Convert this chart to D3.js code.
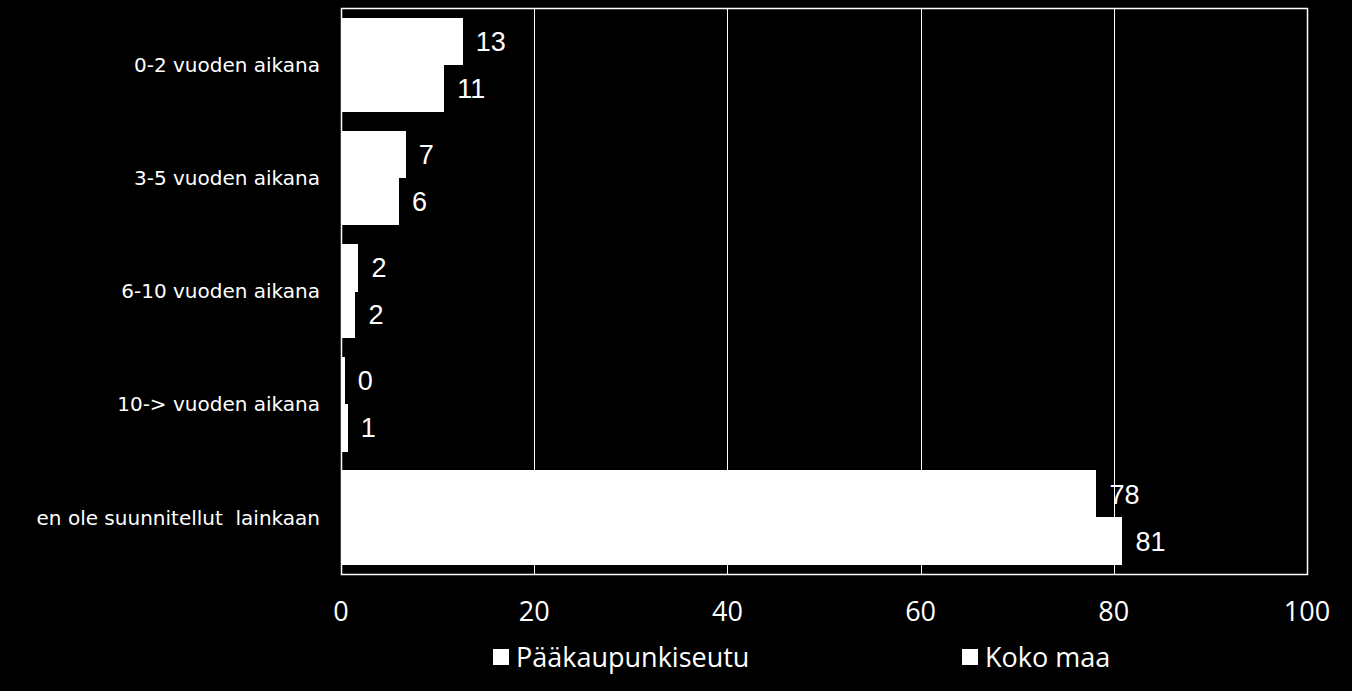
<!DOCTYPE html>
<html>
<head>
<meta charset="utf-8">
<script src="https://cdn.jsdelivr.net/npm/d3@7"></script>
<style>
  body { margin: 0; background: #000; }
  text { fill: #fff; font-family: 'Open Sans', 'DejaVu Sans', sans-serif; }
</style>
</head>
<body>
<div id="chart"></div>
<script>
const categories = ['0-2 vuoden aikana', '3-5 vuoden aikana', '6-10 vuoden aikana', '10-> vuoden aikana', 'en ole suunnitellut  lainkaan']
const seriesNames = ['Pääkaupunkiseutu', 'Koko maa']
const paakaupunkiseutu = [12.6, 6.7, 1.8, 0.4, 78.2]
const kokoMaa = [10.7, 6.0, 1.5, 0.7, 80.9]
const ticks = [0, 20, 40, 60, 80, 100]

const width = 1352
const height = 691
const margin = { top: 8, left: 341, right: 45, bottom: 117 }

const svg = d3.select('#chart')
  .append('svg')
  .attr('width', width)
  .attr('height', height)
  .style('background', '#000')

const x = d3.scaleLinear().domain([0, 100]).range([margin.left, width - margin.right])
const y = d3.scaleBand().domain(categories).range([margin.top, height - margin.bottom])
  .paddingInner(0.17).paddingOuter(0.085)
const ySub = d3.scaleBand().domain(seriesNames).range([0, y.bandwidth()])

// gridlines
svg.append('g')
  .selectAll('line')
  .data(ticks.slice(1, -1))
  .enter()
  .append('line')
  .attr('x1', d => Math.round(x(d)) + 0.5).attr('x2', d => Math.round(x(d)) + 0.5)
  .attr('y1', margin.top).attr('y2', height - margin.bottom)
  .attr('stroke', '#fff').attr('stroke-width', 1)

const rows = categories.map((c, i) => ({ cat: c, values: [paakaupunkiseutu[i], kokoMaa[i]] }))

const groups = svg.append('g')
  .selectAll('g')
  .data(rows)
  .enter()
  .append('g')
  .attr('transform', d => 'translate(0,' + y(d.cat) + ')')

groups.selectAll('rect')
  .data(d => d.values.map((v, j) => ({ name: seriesNames[j], v: v })))
  .enter()
  .append('rect')
  .attr('x', x(0))
  .attr('y', d => ySub(d.name))
  .attr('width', d => x(d.v) - x(0))
  .attr('height', ySub.bandwidth() + 0.5)
  .attr('fill', '#fff')
  .attr('shape-rendering', 'crispEdges')

groups.selectAll('text.val')
  .data(d => d.values.map((v, j) => ({ name: seriesNames[j], v: v })))
  .enter()
  .append('text')
  .attr('class', 'val')
  .attr('x', d => x(d.v) + 13)
  .attr('y', d => ySub(d.name) + ySub.bandwidth() / 2)
  .attr('dy', '0.36em')
  .style('font-family', "'Liberation Sans', Arial, sans-serif")
  .style('font-size', '27px')
  .text(d => d3.format('.0f')(d.v))

// category labels
svg.append('g')
  .selectAll('text')
  .data(categories)
  .enter()
  .append('text')
  .attr('x', 320)
  .attr('y', d => y(d) + y.bandwidth() / 2)
  .attr('dy', '0.36em')
  .attr('text-anchor', 'end')
  .style('font-family', "'DejaVu Sans', sans-serif")
  .style('font-size', '20px')
  .style('white-space', 'pre')
  .text(d => d)

// plot border
svg.append('rect')
  .attr('x', margin.left + 0.5).attr('y', margin.top + 0.5)
  .attr('width', x(100) - x(0)).attr('height', height - margin.bottom - margin.top)
  .attr('fill', 'none').attr('stroke', '#fff').attr('stroke-width', 1.5)

// x tick labels
svg.append('g')
  .selectAll('text')
  .data(ticks)
  .enter()
  .append('text')
  .attr('x', d => x(d))
  .attr('y', 611)
  .attr('dy', '0.36em')
  .attr('text-anchor', 'middle')
  .style('font-size', '27px')
  .text(d => d)

// legend
const legendX = [493, 962]
const legend = svg.append('g')
  .selectAll('g')
  .data(seriesNames)
  .enter()
  .append('g')
  .attr('transform', (d, i) => 'translate(' + legendX[i] + ',657)')
legend.append('rect')
  .attr('x', 0).attr('y', -8).attr('width', 16).attr('height', 16)
  .attr('fill', '#fff')
legend.append('text')
  .attr('x', 23)
  .attr('dy', '0.36em')
  .style('font-size', '27px')
  .text(d => d)
</script>
</body>
</html>
